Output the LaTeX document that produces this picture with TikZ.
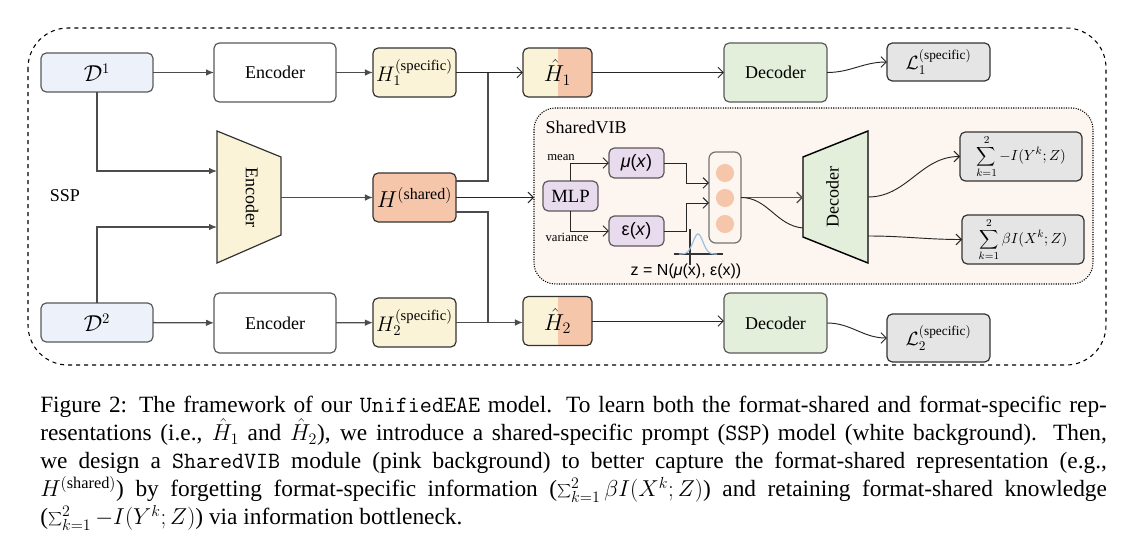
\documentclass[tikz,border=0pt]{standalone}
\usepackage{fontspec}
\setmainfont{Liberation Serif}
\setsansfont{Liberation Sans}
\usetikzlibrary{arrows.meta}

\definecolor{input}{rgb}{.93,.945,.975}
\definecolor{spec}{rgb}{.984,.953,.847}
\definecolor{shared}{rgb}{.961,.776,.667}
\definecolor{dec}{rgb}{.89,.937,.855}
\definecolor{loss}{rgb}{.9,.9,.9}
\definecolor{stat}{rgb}{.914,.859,.933}
\definecolor{vib}{rgb}{.992,.961,.941}
\definecolor{bell}{rgb}{.6,.75,.9}

\newcommand\fsz[1]{\fontsize{#1}{#1}\selectfont}

\begin{document}
\begin{tikzpicture}[x=0.75pt,y=-0.75pt,
  blk/.style={draw=black!80, line width=.9pt, rounded corners=4pt,
              inner sep=0pt, outer sep=0pt, anchor=center},
  soft/.style={blk, draw=black!65},
  wire/.style={draw=black!70, line width=1pt},
  feed/.style={wire, -{Latex[length=6pt,width=5pt]}},
  pass/.style={draw=black!85, line width=.7pt,
               -{Straight Barb[length=4pt,width=8pt]}},
  hsplit/.style={blk, fill=spec, minimum width=51.8pt, minimum height=36.8pt,
    path picture={\fill[shared, sharp corners] (path picture bounding box.south)
                  rectangle (path picture bounding box.north east);}}]
\useasboundingbox (0,0) rectangle (1129,550);

\draw [dashed, line width=.8pt, rounded corners=30pt] (28,28) rectangle (1106,365) ;
\filldraw [fill=vib, densely dotted, line width=.8pt, rounded corners=16pt]
  (534,108) rectangle (1093,284) ;

\node [anchor=mid] (ssp) at (65,198) {\fsz{13.5}SSP} ;
\node [anchor=west] (viblbl) at (541,127) {\fsz{13.5}SharedVIB} ;

\node [soft, fill=input, minimum width=84pt, minimum height=29.3pt] (d1) at (97,72.5)
  {\fsz{16}$\mathcal{D}^1$} ;
\node [soft, fill=input, minimum width=84pt, minimum height=29.3pt] (d2) at (97,322.5)
  {\fsz{16}$\mathcal{D}^2$} ;
\node [soft, fill=white, minimum width=91.5pt, minimum height=44.3pt] (encA) at (275,72.5)
  {\fsz{13.5}Encoder} ;
\node [soft, fill=white, minimum width=91.5pt, minimum height=45pt] (encB) at (275,323)
  {\fsz{13.5}Encoder} ;
\node [blk, fill=spec, minimum width=62.3pt, minimum height=36.8pt] (h1) at (414.5,72.5)
  {\fsz{14.4}\scalebox{1.1}{$H_1^{(\mathrm{specific})}$}} ;
\node [blk, fill=shared, minimum width=62.3pt, minimum height=36.8pt] (hs) at (414.5,197.5)
  {\fsz{17.28}$H^{(\mathrm{shared})}$} ;
\node [blk, fill=spec, minimum width=62.3pt, minimum height=36.8pt] (h2) at (414.5,322.5)
  {\fsz{14.4}\scalebox{1.1}{$H_2^{(\mathrm{specific})}$}} ;
\node [hsplit] (hh1) at (557.5,72.5) {\fsz{17.28}$\hat{H}_1$} ;
\node [hsplit] (hh2) at (557.5,321) {\fsz{17.28}$\hat{H}_2$} ;
\node [soft, fill=dec, minimum width=77.3pt, minimum height=44.3pt] (decA) at (775.5,72.5)
  {\fsz{13.5}Decoder} ;
\node [soft, fill=dec, minimum width=77.3pt, minimum height=45pt] (decB) at (775.5,323)
  {\fsz{13.5}Decoder} ;
\node [blk, fill=loss, minimum width=77.3pt, minimum height=28.5pt] (lossA) at (938.5,62)
  {\fsz{14.4}$\mathcal{L}_1^{(\mathrm{specific})}$} ;
\node [blk, fill=loss, minimum width=77.3pt, minimum height=36pt] (lossB) at (938.5,338)
  {\fsz{14.4}$\mathcal{L}_2^{(\mathrm{specific})}$} ;

\filldraw [fill=spec, draw=black!80, line width=.9pt]
  (217,131) -- (281,157) -- (281,235) -- (217,263) -- cycle ;
\node [rotate=-90, anchor=mid] (encS) at (249,197) {\fsz{13.5}Encoder} ;
\coordinate (encIn1) at (217,171) ;
\coordinate (encIn2) at (217,227) ;
\coordinate (encOut) at (281,197.5) ;

\draw [feed] (d1) -- (encA) ;
\draw [feed] (encA) -- (h1) ;
\draw [feed] (d2) -- (encB) ;
\draw [feed] (encB) -- (h2) ;
\draw [feed] (d1.south) |- (encIn1) ;
\draw [feed] (d2.north) |- (encIn2) ;
\draw [feed] (encOut) -- (hs.west) ;

\coordinate (jA) at (488,72.5) ;
\coordinate (jB) at (488,322.5) ;
\coordinate (vibIn) at (534,197.5) ;
\draw [pass] (h1) -- (hh1) ;
\draw [feed] (h2) -- (hh2.west |- h2.east) ;
\draw [wire] ([yshift=12.4pt]hs.east) -| (jA) ;
\draw [wire] ([yshift=-10.9pt]hs.east) -| (jB) ;
\draw [pass] (hs.east) -- (vibIn) ;
\draw [pass] (hh1) -- (decA) ;
\draw [pass] (hh2.east) -- (decB.west |- hh2.east) ;
\draw [pass] (decA.east) to [out=0, in=180] (lossA.west) ;
\draw [pass] (decB.east) to [out=0, in=180] (lossB.west) ;

\node [soft, fill=stat, minimum width=41.3pt, minimum height=22.5pt] (mlp) at (570.5,196)
  {\fsz{14}MLP} ;
\node [soft, fill=stat, minimum width=41.3pt, minimum height=22.5pt] (mu) at (636.5,163)
  {\fsz{13.5}\sffamily\textit{μ}(\textit{x})} ;
\node [soft, fill=stat, minimum width=41.3pt, minimum height=22.5pt] (eps) at (636.5,231)
  {\fsz{13.5}\sffamily ε(\textit{x})} ;
\node [anchor=mid] (meanlbl) at (561,157) {\fsz{9.5}mean} ;
\node [anchor=mid] (varlbl) at (567,238) {\fsz{9.5}variance} ;
\node [soft, draw=black!55, fill=vib, rounded corners=5pt, minimum width=24pt,
       minimum height=68.3pt] (zbox) at (725,197.5) {} ;
\foreach \y/\n in {173/1, 198/2, 224/3}
  \fill [shared] (725,\y) circle (6.8pt) ;

\draw [pass] (mlp.north) |- (mu.west) ;
\draw [pass] (mlp.south) |- (eps.west) ;
\draw [pass] (mu.east) -- ++(22,0) |- ([yshift=10.9pt]zbox.west) ;
\draw [pass] (eps.east) -- ++(22,0) |- ([yshift=-4.1pt]zbox.west) ;

\draw [line width=1.2pt, black!80] (674,254) -- (723,254) (690,229) -- (690,265) ;
\draw [bell, line width=.9pt, domain=-19:19, samples=40]
  plot ({698+\x},{254-20*exp(-(\x/7)^2)}) ;
\node [anchor=mid] (zlbl) at (686,272) {\fsz{12}\sffamily z = N(\textit{μ}(x), ε(x))} ;

\filldraw [fill=dec, draw=black, line width=1.1pt]
  (803,157) -- (868,131) -- (868,263) -- (803,237) -- cycle ;
\node [rotate=90, anchor=mid] (decS) at (835.5,197) {\fsz{13.5}Decoder} ;
\coordinate (vdIn1) at (803,197.5) ;
\coordinate (vdIn2) at (803,228) ;
\coordinate (vdOut1) at (868,197) ;
\coordinate (vdOut2) at (868,236) ;

\node [blk, fill=loss, minimum width=91.5pt, minimum height=36.8pt] (sumY) at (1021,156.5)
  {\fsz{10.95}$\displaystyle\sum_{k=1}^{2}-I(Y^k;Z)$} ;
\node [blk, fill=loss, minimum width=91.5pt, minimum height=36.8pt] (sumX) at (1023,239.5)
  {\fsz{10.95}$\displaystyle\sum_{k=1}^{2}\beta I(X^k;Z)$} ;

\draw [pass, draw=black!65, line width=1pt] (zbox.east) -- (vdIn1) ;
\draw [draw=black!85, line width=.7pt] (zbox.east) to [out=0, in=175] (vdIn2) ;
\draw [pass] (vdOut1) to [out=0, in=180] (sumY.west) ;
\draw [pass] (vdOut2) to [out=0, in=180] (sumX.west) ;

\node [anchor=north west, inner sep=0pt, text width=800pt, align=justify]
  (caption) at (40,396)
  {\fsz{17.5}\baselineskip=21pt
   Figure 2: The framework of our \texttt{UnifiedEAE} model. To learn both the
   format-shared and format-specific rep-\linebreak resentations (i.e., $\hat{H}_1$ and
   $\hat{H}_2$), we introduce a shared-specific prompt (\texttt{SSP}) model (white
   background). Then,\linebreak we design a \texttt{SharedVIB} module (pink background)
   to better capture the format-shared representation (e.g.,\linebreak
   $H^{(\mathrm{shared})}$) by forgetting format-specific information
   ($\sum_{k=1}^{2}\beta I(X^k;Z)$) and retaining format-shared knowledge\linebreak
   ($\sum_{k=1}^{2}-I(Y^k;Z)$) via information bottleneck.\par} ;
\end{tikzpicture}
\end{document}
